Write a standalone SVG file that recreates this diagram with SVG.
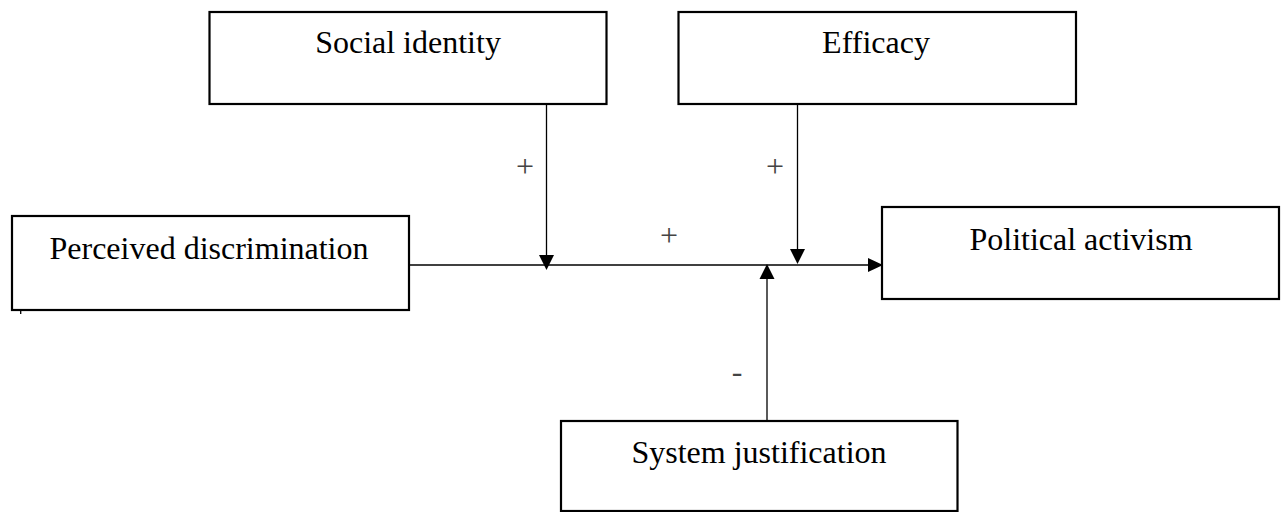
<svg xmlns="http://www.w3.org/2000/svg" width="1281" height="512" viewBox="0 0 1281 512">
<style>
.box{fill:#fff;stroke:#000;stroke-width:2.2}
.lbl{font-family:"Liberation Serif","Times New Roman",serif;font-size:32px;fill:#000;text-anchor:middle}
.sign{font-family:"Liberation Serif","Times New Roman",serif;font-size:32px;fill:#444;text-anchor:middle}
.ln{stroke:#000;stroke-width:1.3;fill:none}
.head{fill:#000;stroke:none}
</style>
<rect width="1281" height="512" fill="#fff"/>
<g id="social-identity">
<rect class="box" x="209.5" y="12" width="397" height="92"/>
<text class="lbl" x="408" y="53">Social identity</text>
</g>
<g id="efficacy">
<rect class="box" x="678.5" y="12" width="397.5" height="92"/>
<text class="lbl" x="876" y="53">Efficacy</text>
</g>
<g id="perceived-discrimination">
<rect class="box" x="12" y="216" width="397" height="94"/>
<text class="lbl" x="209" y="259">Perceived discrimination</text>
</g>
<g id="political-activism">
<rect class="box" x="882" y="207" width="397" height="92"/>
<text class="lbl" x="1081" y="250">Political activism</text>
</g>
<g id="system-justification">
<rect class="box" x="561" y="421" width="396.5" height="90"/>
<text class="lbl" x="759" y="463">System justification</text>
</g>
<g id="connectors">
<line class="ln" x1="409" y1="265" x2="870" y2="265"/>
<polygon class="head" points="868,258 868,272 883,265"/>
<line class="ln" x1="546.5" y1="104" x2="546.5" y2="256"/>
<polygon class="head" points="539,255 554,255 546.5,270"/>
<line class="ln" x1="797.5" y1="104" x2="797.5" y2="250"/>
<polygon class="head" points="790,249 805,249 797.5,264"/>
<line class="ln" x1="767" y1="421" x2="767" y2="278"/>
<polygon class="head" points="759.5,279 774.5,279 767,264"/>
<line class="ln" x1="20.7" y1="310" x2="20.7" y2="314"/>
<text class="sign" x="525" y="177">+</text>
<text class="sign" x="775" y="177">+</text>
<text class="sign" x="669" y="246">+</text>
<text class="sign" x="737" y="382">-</text>
</g>
</svg>
